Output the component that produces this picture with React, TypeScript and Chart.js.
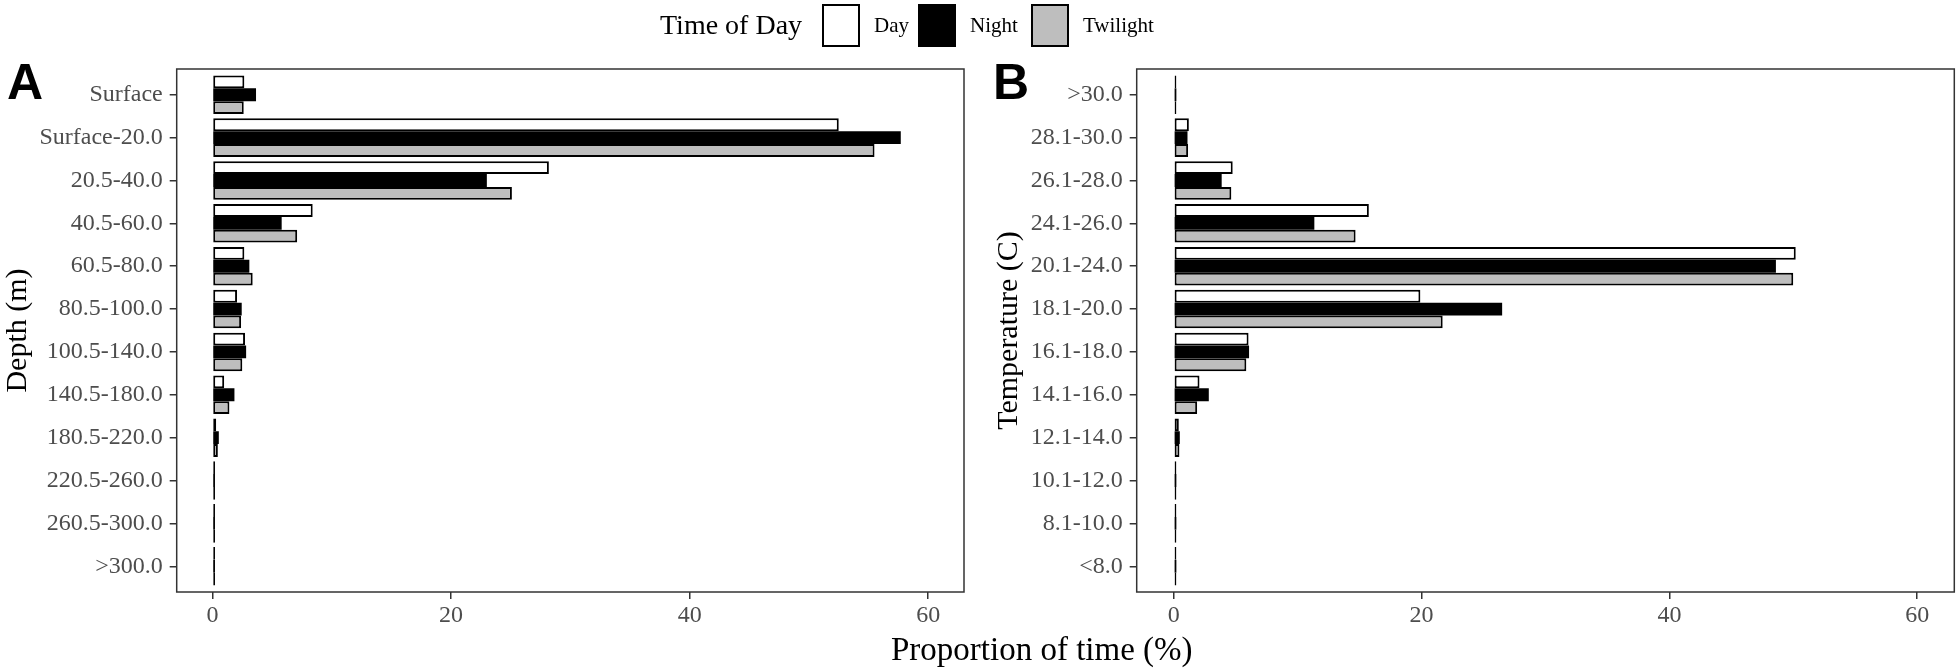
import React, { useEffect, useRef } from 'react';
import { Chart, registerables } from 'chart.js';

Chart.register(...registerables);

// ---------- data ----------
const depthLabels = [
  'Surface', 'Surface-20.0', '20.5-40.0', '40.5-60.0', '60.5-80.0', '80.5-100.0',
  '100.5-140.0', '140.5-180.0', '180.5-220.0', '220.5-260.0', '260.5-300.0', '>300.0',
];
const depthDay = [2.67, 52.5, 28.2, 8.4, 2.67, 2.06, 2.73, 0.98, 0.31, 0.05, 0.02, 0.02];
const depthNight = [3.65, 57.7, 23.0, 5.8, 3.09, 2.45, 2.82, 1.84, 0.53, 0.06, 0.03, 0.02];
const depthTwilight = [2.62, 55.5, 25.1, 7.1, 3.37, 2.4, 2.5, 1.42, 0.45, 0.03, 0.02, 0.02];

const tempLabels = [
  '>30.0', '28.1-30.0', '26.1-28.0', '24.1-26.0', '20.1-24.0', '18.1-20.0',
  '16.1-18.0', '14.1-16.0', '12.1-14.0', '10.1-12.0', '8.1-10.0', '<8.0',
];
const tempDay = [0.02, 1.21, 4.75, 15.74, 50.2, 19.9, 6.03, 2.07, 0.4, 0.05, 0.03, 0.04];
const tempNight = [0.02, 1.1, 3.86, 11.34, 48.6, 26.5, 6.07, 2.82, 0.48, 0.05, 0.02, 0.04];
const tempTwilight = [0.02, 1.15, 4.64, 14.67, 50.0, 21.7, 5.85, 1.88, 0.45, 0.05, 0.02, 0.04];

const seriesNames = ['Day', 'Night', 'Twilight'];
const seriesColors = ['#FFFFFF', '#000000', '#BEBEBE'];
const seriesBorderWidths = [2, 0, 2];
const xTickValues = [0, 20, 40, 60];
const xMin = -3;
const xMax = 63;

const SERIF = '"Liberation Serif", "Times New Roman", serif';
const SANS = '"Liberation Sans", Arial, sans-serif';

const panelBorder = {
  id: 'panelBorder',
  afterDraw(chart: any) {
    const { ctx, chartArea: a } = chart;
    ctx.save();
    ctx.strokeStyle = '#333333';
    ctx.lineWidth = 1.5;
    ctx.strokeRect(a.left, a.top, a.right - a.left, a.bottom - a.top);
    ctx.restore();
  },
};

function buildConfig(
  labels: string[],
  series: number[][],
  yTitle: string,
  padding: { left: number; right: number; top: number; bottom: number },
  yWidth: number,
): any {
  const n = labels.length;
  return {
    type: 'bar',
    data: {
      datasets: series.map((vals, si) => ({
        label: seriesNames[si],
        data: vals.map((v, i) => ({ x: v, y: i })),
        backgroundColor: seriesColors[si],
        borderColor: '#000000',
        borderWidth: seriesBorderWidths[si],
        borderSkipped: false,
        minBarLength: 2.5,
        categoryPercentage: 0.9,
        barPercentage: 1.0,
      })),
    },
    options: {
      indexAxis: 'y',
      responsive: false,
      maintainAspectRatio: false,
      animation: false,
      events: [],
      layout: { padding },
      plugins: {
        legend: { display: false },
        tooltip: { enabled: false },
        title: { display: false },
      },
      scales: {
        x: {
          type: 'linear',
          bounds: 'data',
          offset: false,
          min: xMin,
          max: xMax,
          afterBuildTicks: (s: any) => {
            s.ticks = xTickValues.map((v) => ({ value: v }));
          },
          ticks: {
            color: '#4D4D4D',
            font: { size: 24, family: SERIF },
            padding: 2,
            maxRotation: 0,
            autoSkip: false,
          },
          grid: {
            offset: false,
            drawOnChartArea: false,
            drawTicks: true,
            tickLength: 7,
            color: '#333333',
            lineWidth: 1.5,
          },
          border: { display: false },
          afterFit: (s: any) => {
            s.height = 80;
          },
        },
        y: {
          type: 'linear',
          bounds: 'data',
          offset: false,
          reverse: true,
          min: -0.6,
          max: n - 1 + 0.6,
          afterBuildTicks: (s: any) => {
            s.ticks = labels.map((_, i) => ({ value: i }));
          },
          ticks: {
            callback: (v: any) => labels[Math.round(Number(v))],
            color: '#4D4D4D',
            font: { size: 24, family: SERIF },
            padding: 7,
            autoSkip: false,
          },
          grid: {
            offset: false,
            drawOnChartArea: false,
            drawTicks: true,
            tickLength: 7,
            color: '#333333',
            lineWidth: 1.5,
          },
          border: { display: false },
          title: {
            display: true,
            text: yTitle,
            color: '#000000',
            font: { size: 30, family: SERIF },
            padding: { top: 0, bottom: 0 },
          },
          afterFit: (s: any) => {
            s.width = yWidth;
          },
        },
      },
    },
    plugins: [panelBorder],
  };
}

function Panel(props: {
  labels: string[];
  series: number[][];
  yTitle: string;
  left: number;
  width: number;
  padding: { left: number; right: number; top: number; bottom: number };
  yWidth: number;
}) {
  const ref = useRef<HTMLCanvasElement | null>(null);
  useEffect(() => {
    if (!ref.current) return;
    const chart = new Chart(
      ref.current,
      buildConfig(props.labels, props.series, props.yTitle, props.padding, props.yWidth),
    );
    return () => chart.destroy();
  }, []);
  return (
    <canvas
      ref={ref}
      width={props.width}
      height={672}
      style={{ position: 'absolute', left: props.left, top: 0, width: props.width, height: 672 }}
    />
  );
}

const textBase: React.CSSProperties = {
  position: 'absolute',
  whiteSpace: 'nowrap',
  fontFamily: SERIF,
  color: '#000',
};

export default function App() {
  useEffect(() => {
    document.body.style.margin = '0';
    document.body.style.background = '#fff';
  }, []);

  const keyLefts = [822, 918, 1031];
  const labelLefts = [874, 970, 1083];

  return (
    <div
      style={{
        position: 'fixed',
        left: 0,
        top: 0,
        width: 1958,
        height: 672,
        background: '#fff',
        overflow: 'hidden',
      }}
    >
      <Panel
        labels={depthLabels}
        series={[depthDay, depthNight, depthTwilight]}
        yTitle="Depth (m)"
        left={0}
        width={980}
        padding={{ left: 0, right: 16, top: 69, bottom: 0 }}
        yWidth={176.7}
      />
      <Panel
        labels={tempLabels}
        series={[tempDay, tempNight, tempTwilight]}
        yTitle="Temperature (C)"
        left={980}
        width={978}
        padding={{ left: 11, right: 3.7, top: 69, bottom: 0 }}
        yWidth={145.7}
      />

      {/* panel letters */}
      <div style={{ ...textBase, fontFamily: SANS, fontWeight: 700, fontSize: 50, lineHeight: '50px', left: 7, top: 56.7 }}>A</div>
      <div style={{ ...textBase, fontFamily: SANS, fontWeight: 700, fontSize: 50, lineHeight: '50px', left: 993, top: 56.7 }}>B</div>

      {/* shared x-axis title */}
      <div style={{ ...textBase, fontSize: 33, lineHeight: '33px', left: 891, top: 633.4 }}>Proportion of time (%)</div>

      {/* legend */}
      <div style={{ ...textBase, fontSize: 28, lineHeight: '28px', left: 660, top: 11 }}>Time of Day</div>
      {seriesNames.map((name, i) => (
        <React.Fragment key={name}>
          <div
            style={{
              position: 'absolute',
              left: keyLefts[i],
              top: 4,
              width: 38,
              height: 43,
              boxSizing: 'border-box',
              border: '2.5px solid #000',
              background: seriesColors[i],
            }}
          />
          <div style={{ ...textBase, fontSize: 21, lineHeight: '21px', left: labelLefts[i], top: 15 }}>{name}</div>
        </React.Fragment>
      ))}
    </div>
  );
}
